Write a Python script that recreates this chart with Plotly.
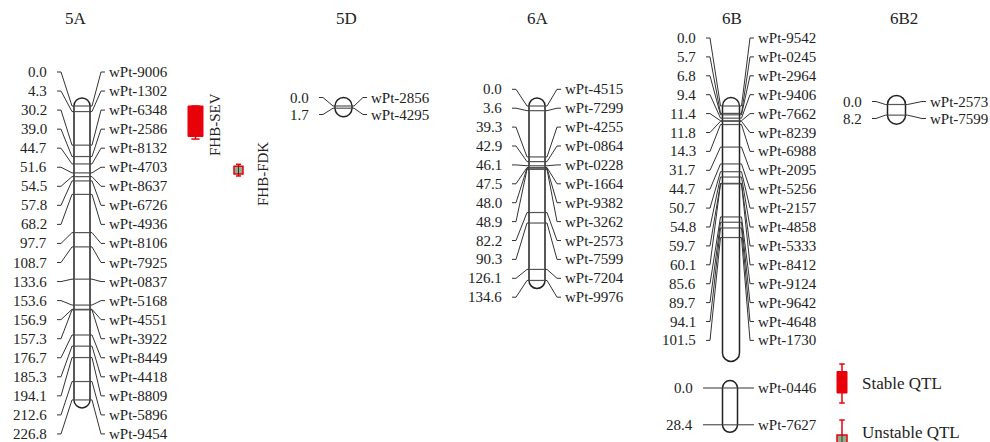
import plotly.graph_objects as go

# ---------------- data ----------------
pos_5A = [0.0, 4.3, 30.2, 39.0, 44.7, 51.6, 54.5, 57.8, 68.2, 97.7, 108.7, 133.6,
          153.6, 156.9, 157.3, 176.7, 185.3, 194.1, 212.6, 226.8]
mk_5A = ["wPt-9006", "wPt-1302", "wPt-6348", "wPt-2586", "wPt-8132", "wPt-4703",
         "wPt-8637", "wPt-6726", "wPt-4936", "wPt-8106", "wPt-7925", "wPt-0837",
         "wPt-5168", "wPt-4551", "wPt-3922", "wPt-8449", "wPt-4418", "wPt-8809",
         "wPt-5896", "wPt-9454"]
pos_5D = [0.0, 1.7]
mk_5D = ["wPt-2856", "wPt-4295"]
pos_6A = [0.0, 3.6, 39.3, 42.9, 46.1, 47.5, 48.0, 48.9, 82.2, 90.3, 126.1, 134.6]
mk_6A = ["wPt-4515", "wPt-7299", "wPt-4255", "wPt-0864", "wPt-0228", "wPt-1664",
         "wPt-9382", "wPt-3262", "wPt-2573", "wPt-7599", "wPt-7204", "wPt-9976"]
pos_6B = [0.0, 5.7, 6.8, 9.4, 11.4, 11.8, 14.3, 31.7, 44.7, 50.7, 54.8, 59.7, 60.1,
          85.6, 89.7, 94.1, 101.5]
mk_6B = ["wPt-9542", "wPt-0245", "wPt-2964", "wPt-9406", "wPt-7662", "wPt-8239",
         "wPt-6988", "wPt-2095", "wPt-5256", "wPt-2157", "wPt-4858", "wPt-5333",
         "wPt-8412", "wPt-9124", "wPt-9642", "wPt-4648", "wPt-1730"]
len_6B = 190.5
pos_6Bb = [0.0, 28.4]
mk_6Bb = ["wPt-0446", "wPt-7627"]
pos_6B2 = [0.0, 8.2]
mk_6B2 = ["wPt-2573", "wPt-7599"]

qtl_names = ["FHB-SEV", "FHB-FDK"]
qtl_lo = [0.0, 46.5]
qtl_hi = [23.5, 52.5]
qtl_ci_lo = [0.0, 45.0]
qtl_ci_hi = [25.5, 54.0]
qtl_stable = [True, False]
legend_labels = ["Stable QTL", "Unstable QTL"]

# ---------------- layout constants (pixels) ----------------
W, H = 990, 442
Y0 = 106.0      # pixel row of 0 cM for the top row of maps
S = 1.296       # pixels per cM

def px2y(py):
    return (py - Y0) / S

FONT = "Liberation Serif"
INK = "#222222"

groups = [
    dict(pos=pos_5A, mk=mk_5A, length=None, cx=82, hw=8, y0=106, ltop=72, step=19.05,
         name_x=108, num_x=49, title="5A", title_x=76),
    dict(pos=pos_5D, mk=mk_5D, length=None, cx=343.5, hw=8.5, y0=106, ltop=97.5, step=17,
         name_x=370, num_x=311, title="5D", title_x=346),
    dict(pos=pos_6A, mk=mk_6A, length=None, cx=537, hw=8, y0=106, ltop=89.3, step=18.9,
         name_x=564, num_x=504, title="6A", title_x=538),
    dict(pos=pos_6B, mk=mk_6B, length=len_6B, cx=731, hw=8.5, y0=106, ltop=38, step=18.9,
         name_x=757, num_x=698, title="6B", title_x=732),
    dict(pos=pos_6Bb, mk=mk_6Bb, length=None, cx=730, hw=7.5, y0=388, ltop=None, step=None,
         name_x=757, num_x=695, title=None, title_x=None),
    dict(pos=pos_6B2, mk=mk_6B2, length=None, cx=896.5, hw=9, y0=104.5, ltop=101.5, step=17,
         name_x=929, num_x=864, title="6B2", title_x=904),
]

fig = go.Figure()
shapes = []
annotations = []

conn_x, conn_y = [], []
band_x, band_y = [], []
K = 0.5523

for g in groups:
    off = (g["y0"] - Y0) / S
    cx, hw = g["cx"], g["hw"]
    L, R = cx - hw, cx + hw
    length = g["length"] if g["length"] is not None else max(g["pos"])
    yt, yb = off, off + length
    rv = hw / S
    path = (f"M {L},{yt} C {L},{yt - K*rv} {cx - K*hw},{yt - rv} {cx},{yt - rv} "
            f"C {cx + K*hw},{yt - rv} {R},{yt - K*rv} {R},{yt} "
            f"L {R},{yb} C {R},{yb + K*rv} {cx + K*hw},{yb + rv} {cx},{yb + rv} "
            f"C {cx - K*hw},{yb + rv} {L},{yb + K*rv} {L},{yb} Z")
    shapes.append(dict(type="path", path=path, xref="x", yref="y", layer="below",
                       line=dict(color=INK, width=1.5), fillcolor="white"))
    for i, (p, m) in enumerate(zip(g["pos"], g["mk"])):
        my = off + p
        if g["ltop"] is None:
            ly = my
        else:
            ly = px2y(g["ltop"] + i * g["step"])
        band_x += [L, R, None]
        band_y += [my, my, None]
        x0 = g["num_x"] + 8
        conn_x += [x0, x0 + 4, L - 2, L, None]
        conn_y += [ly, ly, my, my, None]
        xr = g["name_x"] - 3
        conn_x += [R, R + 2, xr - 4, xr, None]
        conn_y += [my, my, ly, ly, None]
        annotations.append(dict(x=g["num_x"], y=ly, text=f"{p:.1f}", showarrow=False,
                                xanchor="right", yanchor="middle",
                                font=dict(family=FONT, size=15, color=INK)))
        annotations.append(dict(x=g["name_x"], y=ly, text=m, showarrow=False,
                                xanchor="left", yanchor="middle", borderpad=0,
                                font=dict(family=FONT, size=15, color=INK)))
    if g["title"]:
        annotations.append(dict(x=g["title_x"], y=px2y(18), text=g["title"], showarrow=False,
                                xanchor="center", yanchor="middle",
                                font=dict(family=FONT, size=17, color=INK)))

fig.add_trace(go.Scatter(x=band_x, y=band_y, mode="lines", hoverinfo="skip",
                         line=dict(color="#555555", width=1.2), showlegend=False))
fig.add_trace(go.Scatter(x=conn_x, y=conn_y, mode="lines", hoverinfo="skip",
                         line=dict(color="#333333", width=1), showlegend=False))

RED = "#e8000b"

def qtl_glyph(xc, w, lo, hi, clo, chi, stable):
    cap = w * 0.55
    out = []
    for a, b in ((clo, lo), (hi, chi)):
        if b != a:
            out.append(dict(type="line", x0=xc, x1=xc, y0=a, y1=b, xref="x", yref="y",
                            line=dict(color=RED, width=1.5)))
    for yy in (clo, chi):
        out.append(dict(type="line", x0=xc - cap/2, x1=xc + cap/2, y0=yy, y1=yy,
                        xref="x", yref="y", line=dict(color=RED, width=1.5)))
    if stable:
        out.append(dict(type="rect", x0=xc - w/2, x1=xc + w/2, y0=lo, y1=hi, xref="x",
                        yref="y", line=dict(color=RED, width=1), fillcolor=RED))
    else:
        out.append(dict(type="rect", x0=xc - w/2, x1=xc + w/2, y0=lo, y1=hi, xref="x",
                        yref="y", line=dict(color=RED, width=1.5), fillcolor="#8fae8f"))
        out.append(dict(type="line", x0=xc, x1=xc, y0=lo, y1=hi, xref="x", yref="y",
                        line=dict(color="#333333", width=1)))
    return out

qtl_x = [195.5, 238.5]
qtl_w = [15, 9]
qtl_text_x = [215, 263]
qtl_text_y = [125, 174]
for i in range(len(qtl_names)):
    shapes += qtl_glyph(qtl_x[i], qtl_w[i], qtl_lo[i], qtl_hi[i], qtl_ci_lo[i],
                        qtl_ci_hi[i], qtl_stable[i])
    annotations.append(dict(x=qtl_text_x[i], y=px2y(qtl_text_y[i]), text=qtl_names[i],
                            textangle=-90, showarrow=False, xanchor="center",
                            yanchor="middle", font=dict(family=FONT, size=15, color=INK)))

# legend glyphs
shapes += qtl_glyph(842, 10, px2y(371.5), px2y(393), px2y(364), px2y(403), True)
shapes += qtl_glyph(842, 10, px2y(435), px2y(448), px2y(420), px2y(448), False)
annotations.append(dict(x=860, y=px2y(383), text=legend_labels[0], showarrow=False,
                        xanchor="left", yanchor="middle",
                        font=dict(family=FONT, size=17, color=INK)))
annotations.append(dict(x=860, y=px2y(432), text=legend_labels[1], showarrow=False,
                        xanchor="left", yanchor="middle",
                        font=dict(family=FONT, size=17, color=INK)))

fig.update_layout(
    width=W, height=H,
    margin=dict(l=0, r=0, t=0, b=0, pad=0),
    paper_bgcolor="white", plot_bgcolor="white",
    shapes=shapes, annotations=annotations, showlegend=False,
    xaxis=dict(range=[0, W], visible=False, fixedrange=True),
    yaxis=dict(range=[px2y(H), px2y(0)], visible=False, fixedrange=True),
)

fig.write_html("out.html", config={"displayModeBar": False},
               post_script="document.body.style.margin='0px';")
